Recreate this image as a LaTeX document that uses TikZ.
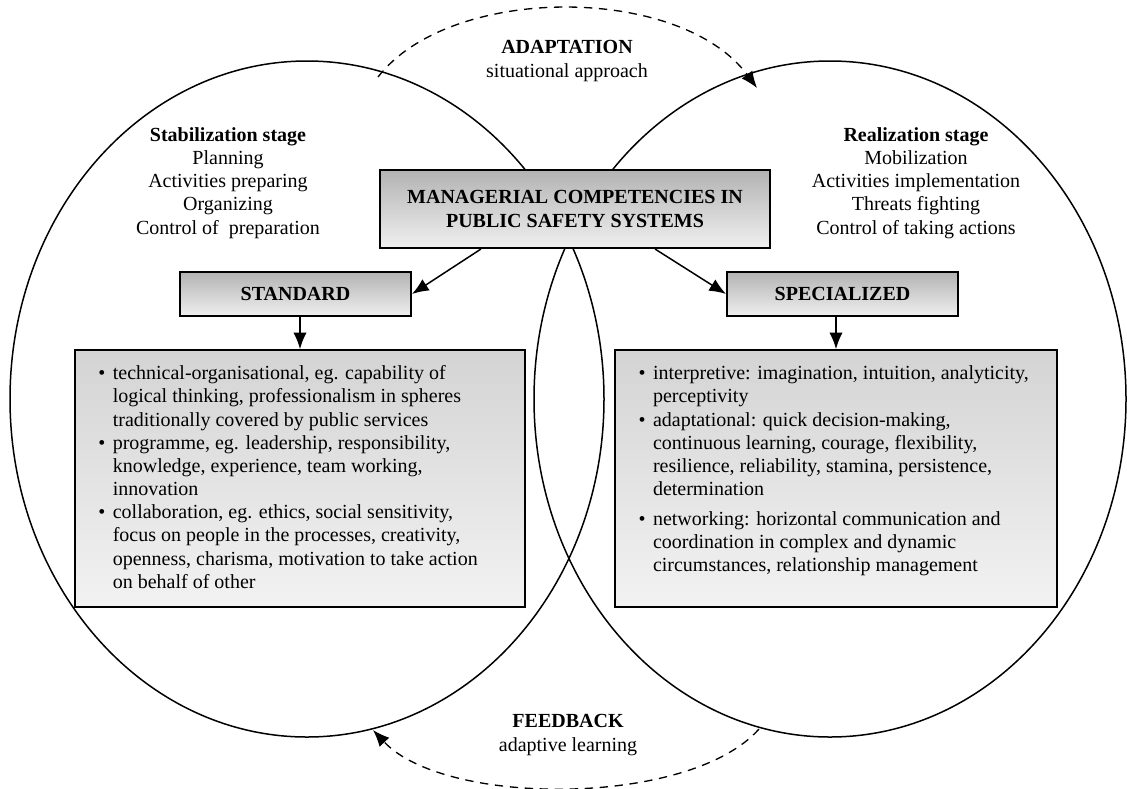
\documentclass[tikz,border=0pt]{standalone}
\usepackage{fontspec}
\setmainfont{Liberation Serif}
\tikzstyle{headbox}=[rectangle,draw=black,line width=1.2pt,top color=black!30,bottom color=black!6,font=\fontsize{12pt}{13.9pt}\selectfont\bfseries,align=center,inner sep=0pt]
\tikzstyle{listbox}=[rectangle,draw=black,line width=1.2pt,top color=black!17,bottom color=black!5,inner xsep=14pt,inner ysep=8pt]
\tikzstyle{stage}=[align=center]
\tikzstyle{link}=[-{Latex[length=10pt,width=8pt]},line width=0.9pt]
\tikzstyle{feedarc}=[-{Latex[length=10pt,width=8pt]},line width=0.8pt,dash pattern=on 5pt off 4pt]
\usetikzlibrary{arrows.meta,positioning}

\begin{document}
\begin{tikzpicture}[x=0.6pt,y=-0.6pt,font=\fontsize{12pt}{13.9pt}\selectfont]
            \useasboundingbox (0,0) rectangle (1127,788);

            % STAGES

            \draw[line width=0.9pt] (307,399) ellipse (297 and 338);
            \draw[line width=0.9pt] (830,399) ellipse (296 and 338);

            \node[stage] (stab) at (228,183) {\textbf{Stabilization stage}\\Planning\\Activities preparing\\Organizing\\Control of\ \ preparation};
            \node[stage] (real) at (916,183) {\textbf{Realization stage}\\Mobilization\\Activities implementation\\Threats fighting\\Control of taking actions};

            % COMPETENCIES

            \node[headbox,minimum width=234pt,minimum height=46.8pt] (core) at (575,209) {MANAGERIAL COMPETENCIES IN\\PUBLIC SAFETY SYSTEMS};
            \node[headbox,minimum width=138.6pt,minimum height=26.4pt] (std) at (295.5,294) {STANDARD};
            \node[headbox,minimum width=138.6pt,minimum height=26.4pt] (spec) at (842.5,294) {SPECIALIZED};

            \node[listbox] (stdlist) at (300,478.5) {\begin{minipage}[t][138pt][t]{242pt}
            \begin{tabular}{@{}l@{\hspace{4.5pt}}l@{}}
            \textbullet & technical-organisational, eg. capability of\\
            & logical thinking, professionalism in spheres\\
            & traditionally covered by public services\\
            \textbullet & programme, eg. leadership, responsibility,\\
            & knowledge, experience, team working,\\
            & innovation\\
            \textbullet & collaboration, eg. ethics, social sensitivity,\\
            & focus on people in the processes, creativity,\\
            & openness, charisma, motivation to take action\\
            & on behalf of other
            \end{tabular}\end{minipage}};
            \node[listbox] (speclist) at (836,478.5) {\begin{minipage}[t][138pt][t]{237pt}
            \begin{tabular}{@{}l@{\hspace{4.5pt}}l@{}}
            \textbullet & interpretive: imagination, intuition, analyticity,\\
            & perceptivity\\
            \textbullet & adaptational: quick decision-making,\\
            & continuous learning, courage, flexibility,\\
            & resilience, reliability, stamina, persistence,\\
            & determination\\[4pt]
            \textbullet & networking: horizontal communication and\\
            & coordination in complex and dynamic\\
            & circumstances, relationship management
            \end{tabular}\end{minipage}};

            \draw[link] ([xshift=61.2pt]core.south west) -- (std.east);
            \draw[link] ([xshift=-69.6pt]core.south east) -- (spec.west);
            \draw[link] (stdlist.north |- std.south) -- (stdlist.north);
            \draw[link] (speclist.north |- spec.south) -- (speclist.north);

            % ADAPTATION AND FEEDBACK

            \node[stage] (adapt) at (567,61) {\textbf{ADAPTATION}\\situational approach};
            \node[stage] (feed) at (568,735) {\textbf{FEEDBACK}\\adaptive learning};

            \coordinate (adaptfrom) at (378,77);
            \coordinate (adaptto) at (757,88);
            \coordinate (feedfrom) at (759,729);
            \coordinate (feedto) at (373,730);

            \draw[feedarc] (adaptfrom) .. controls (450,-16) and (680,-16) .. (adaptto);
            \draw[feedarc] (feedfrom) .. controls (690,807) and (445,807) .. (feedto);

        \end{tikzpicture}
\end{document}
